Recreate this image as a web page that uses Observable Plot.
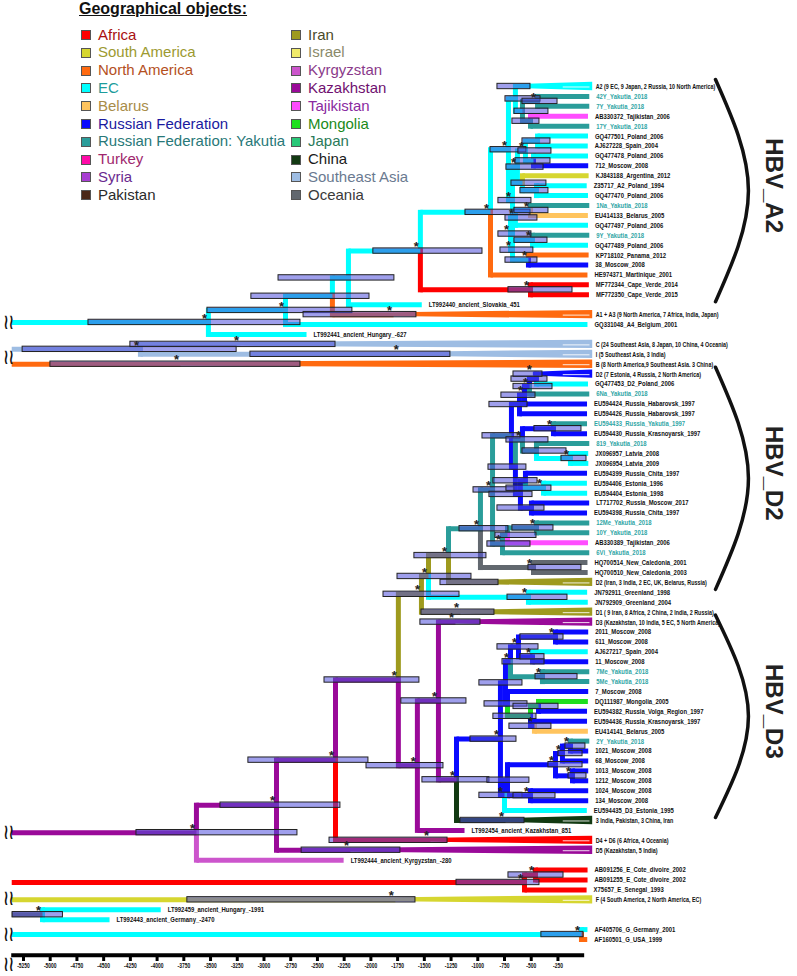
<!DOCTYPE html>
<html><head><meta charset="utf-8">
<script src="https://cdn.jsdelivr.net/npm/d3@7"></script>
<script src="https://cdn.jsdelivr.net/npm/@observablehq/plot@0.6"></script>
<style>
body{margin:0;background:#fff;}
#wrap{position:relative;width:797px;height:976px;overflow:hidden;}
#legend{position:absolute;left:0;top:0;width:420px;height:210px;font-family:"Liberation Sans",Arial,sans-serif;}
.lt{position:absolute;left:79px;top:0px;font-size:16px;font-weight:bold;text-decoration:underline;color:#111;}
.sq{position:absolute;width:8px;height:8px;border:1px solid #555;}
.lab{position:absolute;font-size:15px;line-height:18px;white-space:nowrap;}
</style></head>
<body><div id="wrap"><div id="chart"></div><div id="legend"></div></div>
<script>
// ---------- regions ----------
const regionCodes = ["AF","SA","NA","EC","BY","RU","YA","TR","SY","PK","IR","IL","KG","KZ","TJ","MN","JP","CN","SEA","OC"];
const regionNames = ["Africa","South America","North America","EC","Belarus","Russian Federation","Russian Federation: Yakutia","Turkey","Syria","Pakistan","Iran","Israel","Kyrgyzstan","Kazakhstan","Tajikistan","Mongolia","Japan","China","Southeast Asia","Oceania"];
const regionColors = ["#ff0000","#d6d630","#ff6a10","#00ffff","#ffc45e","#0a0aff","#2a9d9a","#ff0aa8","#a83ed2","#4a2818","#9e9a1e","#f0ea6a","#cc55cc","#9a0a99","#ff4dff","#1ee01e","#28c878","#123a12","#9ebde3","#62686f"];
const regionTextColors = ["#a81010","#9c9a30","#b4501e","#1c9c9c","#a88c48","#1a1aa0","#287878","#a0286e","#6a2a8e","#2a2a2a","#4a4a2a","#8a8a6a","#8a3a8a","#701070","#8a2aa0","#1a8a1a","#2a7a5a","#1a1a1a","#6a7a90","#3a3a3a"];

// ---------- axis ----------
const axisTicks = [-5250,-5000,-4750,-4500,-4250,-4000,-3750,-3500,-3250,-3000,-2750,-2500,-2250,-2000,-1750,-1500,-1250,-1000,-750,-500,-250];
const OFFSET = 1975;      // sampling year that sits at axis 0
const ROOT_X = -5360;     // left edge of the truncated root branches
const CLADE_END = 75;     // right end of collapsed clades

// ---------- internal nodes: id, parent, age, hpdLo, hpdHi, posterior*, region ----------
const nodes = [
 ["A0","root",-3520,-4642,-2659,true,"EC"],
 ["nA0b","A0",-2799,-3529,-2173,true,"EC"],
 ["nA1","nA0b",-2360,-3118,-2013,false,"EC"],
 ["nA2","nA1",-2210,-2864,-1780,false,"EC"],
 ["nA2a","nA2",-1537,-1977,-956,true,"EC"],
 ["nA2b","nA2a",-881,-1115,-507,true,"EC"],
 ["nCV","nA2a",-507,-713,-114,true,"AF"],
 ["nA2c","nA2b",-713,-881,-545,true,"EC"],
 ["nG1","nA2c",-648,-741,-413,false,"EC"],
 ["nG1a","nG1",-582,-657,-339,false,"EC"],
 ["nTY","nG1a",-441,-582,-254,true,"YA"],
 ["nTT","nG1a",-507,-676,-423,false,"YA"],
 ["nG2","nA2c",-675,-807,-498,true,"EC"],
 ["nH","nG2",-629,-732,-385,true,"EC"],
 ["nH1","nH",-554,-620,-311,true,"EC"],
 ["nH1a","nH1",-441,-582,-320,false,"EC"],
 ["nH1b","nH1",-479,-648,-320,false,"EC"],
 ["nH2","nH",-582,-685,-358,false,"EC"],
 ["nH2a","nH2",-451,-601,-339,false,"EC"],
 ["nK","nG2",-694,-807,-498,true,"EC"],
 ["nK1","nK",-648,-741,-442,true,"EC"],
 ["nK1a","nK1",-507,-657,-339,true,"EC"],
 ["nK2","nK",-675,-788,-480,true,"EC"],
 ["nK2a","nK2",-488,-657,-348,true,"EC"],
 ["nK2b","nK2",-526,-741,-442,true,"EC"],
 ["CI","root",-4156,-5258,-3256,true,"SEA"],
 ["Droot","root",-3632,-4193,-2687,true,"KZ"],
 ["N803","Droot",-2883,-3407,-2285,true,"KZ"],
 ["N759","N803",-2331,-3146,-2023,true,"KZ"],
 ["O","N759",-1743,-2434,-1546,true,"KZ"],
 ["X3","O",-1527,-1882,-1171,true,"IR"],
 ["X2","X3",-1461,-1751,-1059,true,"IR"],
 ["X1","X2",-1274,-1593,-919,true,"IR"],
 ["GL","X2",-526,-722,-161,true,"EC"],
 ["T1","X1",-975,-1171,-713,true,"YA"],
 ["NC","T1",-479,-526,-30,true,"OC"],
 ["T2","T1",-862,-1040,-657,true,"YA"],
 ["T3","T2",-685,-956,-601,false,"YA"],
 ["T4","T2",-769,-910,-507,true,"YA"],
 ["T5","T4",-722,-835,-451,false,"YA"],
 ["T6","T5",-451,-676,-292,true,"YA"],
 ["U2","T3",-610,-891,-535,false,"RU"],
 ["U2a","U2",-563,-779,-460,true,"RU"],
 ["U2b","U2a",-516,-666,-301,true,"RU"],
 ["U2c","U2b",-451,-685,-348,false,"RU"],
 ["U4","T3",-648,-900,-545,false,"RU"],
 ["U6","U4",-582,-732,-339,true,"YA"],
 ["U6a","U6",-292,-470,-30,true,"RU"],
 ["U6b","U6",-451,-582,-170,false,"YA"],
 ["LV","U6b",-133,-217,17,true,"EC"],
 ["U8","U4",-601,-891,-488,false,"RU"],
 ["U7","U8",-554,-854,-441,false,"RU"],
 ["ES","U7",-385,-732,-311,true,"EC"],
 ["LT","U8",-498,-816,-376,false,"RU"],
 ["P","O",-1565,-2041,-1321,true,"KZ"],
 ["Q","P",-1368,-1715,-1106,true,"KZ"],
 ["R","Q",-1199,-1518,-891,true,"KZ"],
 ["S","R",-788,-1068,-638,true,"RU"],
 ["Sup","S",-741,-985,-582,false,"RU"],
 ["Su1","Sup",-694,-769,-376,true,"RU"],
 ["Sv1","Su1",-619,-816,-432,true,"RU"],
 ["Sw1","Sv1",-273,-601,-198,true,"RU"],
 ["Sw2","Sv1",-488,-601,-376,true,"RU"],
 ["Sv2","Su1",-395,-460,-67,true,"YA"],
 ["Su2","Sup",-722,-937,-535,false,"RU"],
 ["Sx","Su2",-507,-854,-451,false,"MN"],
 ["Sx1","Sx",-432,-666,-245,false,"MN"],
 ["Sx2","Sx",-470,-704,-311,true,"RU"],
 ["Sdn","S",-750,-985,-582,true,"RU"],
 ["Sd1","Sdn",-722,-910,-517,false,"RU"],
 ["Sd2","Sd1",-273,-339,-20,true,"RU"],
 ["Se1","Sd2",-208,-245,-20,true,"RU"],
 ["Sf","Se1",-133,-180,7,true,"RU"],
 ["Se2","Sd2",-114,-151,17,true,"RU"],
 ["Sd3","Sd1",-507,-666,-273,true,"RU"],
 ["Eroot","root",-563,-1199,-423,true,"AF"],
 ["Epair","Eroot",-460,-713,-198,true,"AF"],
 ["HG","root",-5072,-5352,-4881,true,"OC"],
 ["Gpair","root",-30,-405,-11,true,"EC"]
];

// ---------- tips: label, parent, row, sampling year, region ----------
const tips = [
 ["42Y_Yakutia_2018","nTY",1,2018,"YA"],
 ["7Y_Yakutia_2018","nTY",2,2018,"YA"],
 ["AB330372_Tajikistan_2006","nTT",3,2006,"TJ"],
 ["17Y_Yakutia_2018","nTT",4,2018,"YA"],
 ["GQ477501_Poland_2006","nH1a",5,2006,"EC"],
 ["AJ627228_Spain_2004","nH1a",6,2004,"EC"],
 ["GQ477478_Poland_2006","nH1b",7,2006,"EC"],
 ["712_Moscow_2008","nH1b",8,2008,"RU"],
 ["KJ843188_Argentina_2012","nH2",9,2012,"SA"],
 ["Z35717_A2_Poland_1994","nH2a",10,1994,"EC"],
 ["GQ477470_Poland_2006","nH2a",11,2006,"EC"],
 ["1Na_Yakutia_2018","nK1a",12,2018,"YA"],
 ["EU414133_Belarus_2005","nK1a",13,2005,"BY"],
 ["GQ477497_Poland_2006","nK1",14,2006,"EC"],
 ["9Y_Yakutia_2018","nK2a",15,2018,"YA"],
 ["GQ477489_Poland_2006","nK2a",16,2006,"EC"],
 ["KP718102_Panama_2012","nK2b",17,2012,"NA"],
 ["38_Moscow_2008","nK2b",18,2008,"RU"],
 ["HE974371_Martinique_2001","nA2b",19,2001,"NA"],
 ["MF772344_Cape_Verde_2014","nCV",20,2014,"AF"],
 ["MF772350_Cape_Verde_2015","nCV",21,2015,"AF"],
 ["LT992440_ancient_Slovakia_451","nA2",22,451,"EC"],
 ["GQ331048_A4_Belgium_2001","nA0b",24,2001,"EC"],
 ["LT992441_ancient_Hungary_-627","A0",25,-627,"EC"],
 ["GQ477453_D2_Poland_2006","U2c",30,2006,"EC"],
 ["6Na_Yakutia_2018","U2b",31,2018,"YA"],
 ["EU594424_Russia_Habarovsk_1997","U2a",32,1997,"RU"],
 ["EU594426_Russia_Habarovsk_1997","U2",33,1997,"RU"],
 ["EU594433_Russia_Yakutia_1997","U6a",34,1997,"YA"],
 ["EU594430_Russia_Krasnoyarsk_1997","U6a",35,1997,"RU"],
 ["819_Yakutia_2018","U6b",36,2018,"YA"],
 ["JX096957_Latvia_2008","LV",37,2008,"EC"],
 ["JX096954_Latvia_2009","LV",38,2009,"EC"],
 ["EU594399_Russia_Chita_1997","U7",39,1997,"RU"],
 ["EU594406_Estonia_1996","ES",40,1996,"EC"],
 ["EU594404_Estonia_1998","ES",41,1998,"EC"],
 ["LT717702_Russia_Moscow_2017","LT",42,2017,"RU"],
 ["EU594398_Russia_Chita_1997","LT",43,1997,"RU"],
 ["12Me_Yakutia_2018","T6",44,2018,"YA"],
 ["10Y_Yakutia_2018","T6",45,2018,"YA"],
 ["AB330389_Tajikistan_2006","T5",46,2006,"TJ"],
 ["6Vi_Yakutia_2018","T4",47,2018,"YA"],
 ["HQ700514_New_Caledonia_2001","NC",48,2001,"OC"],
 ["HQ700510_New_Caledonia_2003","NC",49,2003,"OC"],
 ["JN792911_Greenland_1998","GL",51,1998,"EC"],
 ["JN792909_Greenland_2004","GL",52,2004,"EC"],
 ["2011_Moscow_2008","Sw1",55,2008,"RU"],
 ["611_Moscow_2008","Sw1",56,2008,"RU"],
 ["AJ627217_Spain_2004","Sw2",57,2004,"EC"],
 ["11_Moscow_2008","Sw2",58,2008,"RU"],
 ["7Me_Yakutia_2018","Sv2",59,2018,"YA"],
 ["5Me_Yakutia_2018","Sv2",60,2018,"YA"],
 ["7_Moscow_2008","Su2",61,2008,"RU"],
 ["DQ111987_Mongolia_2005","Sx1",62,2005,"MN"],
 ["EU594382_Russia_Volga_Region_1997","Sx1",63,1997,"RU"],
 ["EU594436_Russia_Krasnoyarsk_1997","Sx2",64,1997,"RU"],
 ["EU414141_Belarus_2005","Sx2",65,2005,"BY"],
 ["2Y_Yakutia_2018","Sf",66,2018,"YA"],
 ["1021_Moscow_2008","Sf",67,2008,"RU"],
 ["68_Moscow_2008","Se1",68,2008,"RU"],
 ["1013_Moscow_2008","Se2",69,2008,"RU"],
 ["1212_Moscow_2008","Se2",70,2008,"RU"],
 ["1024_Moscow_2008","Sd3",71,2008,"RU"],
 ["134_Moscow_2008","Sd3",72,2008,"RU"],
 ["EU594435_D3_Estonia_1995","Sdn",73,1995,"EC"],
 ["LT992454_ancient_Kazakhstan_851","P",75,851,"KZ"],
 ["LT992444_ancient_Kyrgyzstan_-280","Droot",78,-280,"KG"],
 ["AB091256_E_Cote_divoire_2002","Epair",79,2002,"AF"],
 ["AB091255_E_Cote_divoire_2002","Epair",80,2002,"AF"],
 ["X75657_E_Senegal_1993","Eroot",81,1993,"AF"],
 ["LT992459_ancient_Hungary_-1991","HG",83,-1991,"EC"],
 ["LT992443_ancient_Germany_-2470","HG",84,-2470,"EC"],
 ["AF405706_G_Germany_2001","Gpair",85,2001,"EC"],
 ["AF160501_G_USA_1999","Gpair",86,1999,"NA"]
];

// ---------- collapsed clades: label, parent, row, age, hpdLo, hpdHi, posterior*, region ----------
const clades = [
 ["A2 (9 EC, 9 Japan, 2 Russia, 10 North America)","nG1",0,-620,-816,-507,false,"EC"],
 ["A1 + A3 (9 North America, 7 Africa, India, Japan)","nA1",23,-1788,-2630,-1574,true,"NA"],
 ["C (24 Southeast Asia, 8 Japan, 10 China, 4 Oceania)","CI",26,-3220,-4250,-2331,true,"SEA"],
 ["I (5 Southeast Asia, 3 India)","CI",27,-1724,-3127,-1256,true,"SEA"],
 ["B (8 North America,9 Southeast Asia. 3 China)","root",28,-3780,-4998,-2659,true,"NA"],
 ["D2 (7 Estonia, 4 Russia, 2 North America)","U2c",29,-480,-666,-395,true,"RU"],
 ["D2 (Iran, 3 India, 2 EC, UK, Belarus, Russia)","X1",50,-1068,-1349,-806,false,"IR"],
 ["D1 ( 9 Iran, 8 Africa, 2 China, 2 India, 2 Russia)","X3",53,-1162,-1527,-844,true,"IR"],
 ["D3 (Kazakhstan, 10 India, 5 EC, 5 North America)","Q",54,-1209,-1537,-975,true,"KZ"],
 ["3 India, Pakistan, 3 China, Iran","R",74,-741,-1162,-563,true,"CN"],
 ["D4 + D6 (6 Africa, 4 Oceania)","N759",76,-1443,-2387,-1283,true,"AF"],
 ["D5 (Kazakhstan, 5 India)","N803",77,-2191,-2648,-1724,true,"KZ"],
 ["F (4 South America, 2 North America, EC)","root",82,-1771,-3717,-1583,true,"SA"]
];

// ---------- genotype brackets: label, first row, last row ----------
const brackets = [["HBV_A2",0,21],["HBV_D2",29,50],["HBV_D3",54,73]];

// ================= build tree =================
const col = c => regionColors[regionCodes.indexOf(c)];
const byId = new Map();
byId.set("root",{id:"root",x:ROOT_X,children:[],root:true});
for (const [id,parent,x,lo,hi,star,region] of nodes) byId.set(id,{id,parent,x,lo,hi,star,region,children:[]});
for (const n of nodes) byId.get(n[1]).children.push(byId.get(n[0]));
const tipObjs = tips.map(([label,parent,row,year,region])=>({label,parent,y:row,x:year-OFFSET,region}));
const cladeObjs = clades.map(([label,parent,row,x,lo,hi,star,region])=>({label,parent,y:row,x,lo,hi,star,region,clade:true}));
for (const t of tipObjs) byId.get(t.parent).children.push(t);
for (const c of cladeObjs) byId.get(c.parent).children.push(c);
function setY(n){
  if(!n.children) return n.y;
  const ys = n.children.map(setY);
  n.y = (Math.min(...ys)+Math.max(...ys))/2;
  return n.y;
}
setY(byId.get("root"));
const internal = nodes.map(n=>byId.get(n[0]));
const all = [...internal,...tipObjs,...cladeObjs];
const hSegs=[], vSegs=[];
for (const n of all){
  const p = byId.get(n.parent);
  hSegs.push({x1:p.x,x2:n.x,y:n.y,c:col(n.region)});
  if(!p.root) vSegs.push({x:p.x,y1:p.y,y2:n.y,c:col(n.region)});
}
const tri=[];
for (const c of cladeObjs){
  tri.push({id:c.label,x:c.x,y1:c.y-0.2,y2:c.y+0.2,c:col(c.region)});
  tri.push({id:c.label,x:CLADE_END,y1:c.y-0.42,y2:c.y+0.42,c:col(c.region)});
}
const bars=[...internal,...cladeObjs];
const stars=bars.filter(d=>d.star);
// break marks on the truncated root branches (close rows share one mark)
const AXIS_ROW = 87.6;
const rootRows = byId.get("root").children.map(d=>d.y).sort((a,b)=>a-b);
const breakRows=[];
for (const r of rootRows){
  const last = breakRows[breakRows.length-1];
  if (last && r - last.hi < 2) { last.hi = r; } else breakRows.push({lo:r,hi:r});
}
const breakMarks = breakRows.map(b=>(b.lo+b.hi)/2);
breakMarks.push(AXIS_ROW+0.9);
const arcPts=[];
for (const [lab,a,b] of brackets){
  const t=a-0.7, e=b+0.7, m=(t+e)/2;
  arcPts.push({id:lab,x:1224,y:t},{id:lab,x:1532,y:m},{id:lab,x:1224,y:e});
}
const bracketLabels = brackets.map(([lab,a,b])=>({lab,y:(a+b)/2-0.5}));

const FONT = "'Liberation Sans',Arial,sans-serif";
const chart = Plot.plot({
  width:797,height:976,marginLeft:0,marginRight:0,marginTop:0,marginBottom:21,
  x:{domain:[-5465,1991],axis:null},
  y:{domain:[0,86],range:[86,939],axis:null},
  color:{type:"identity"},
  style:{fontFamily:FONT,background:"#fff",overflow:"visible"},
  marks:[
    Plot.link(vSegs,{x1:"x",x2:"x",y1:"y1",y2:"y2",stroke:"c",strokeWidth:5,strokeLinecap:"square"}),
    Plot.link(hSegs,{x1:"x1",x2:"x2",y1:"y",y2:"y",stroke:"c",strokeWidth:5}),
    Plot.areaY(tri,{x:"x",y1:"y1",y2:"y2",z:"id",fill:"c"}),
    Plot.link(cladeObjs,{x1:CLADE_END-280,x2:CLADE_END-30,y1:d=>d.y+0.05,y2:d=>d.y+0.05,stroke:"#fff",strokeWidth:1,strokeOpacity:0.85}),
    Plot.rect(bars,{x1:"lo",x2:"hi",y1:d=>d.y-0.27,y2:d=>d.y+0.27,fill:"#5050dc",fillOpacity:0.55,stroke:"#222",strokeWidth:1}),
    Plot.text(stars,{x:"x",y:"y",text:()=>"*",fontSize:13,fontWeight:"bold",dx:-4,dy:-4,fill:"#222"}),
    Plot.text(tipObjs,{x:"x",y:"y",text:"label",textAnchor:"start",dx:7,fontSize:7.5,fontWeight:"bold",fill:d=>d.region==="YA"?"#2fa5a5":"#111"}),
    Plot.text(cladeObjs,{x:CLADE_END,y:"y",text:"label",textAnchor:"start",dx:3,fontSize:7.5,fontWeight:"bold",fill:"#111"}),
    Plot.line(arcPts,{x:"x",y:"y",z:"id",curve:"natural",stroke:"#111",strokeWidth:3.5}),
    Plot.text(bracketLabels,{x:1767,y:"y",text:"lab",rotate:90,fontSize:24,fontWeight:"bold",fill:"#222"}),
    Plot.text(breakMarks,{x:ROOT_X,y:d=>d,text:()=>"≀≀",dx:-3,fontSize:21,fontWeight:"bold",fill:"#111",fontFamily:"'DejaVu Sans',sans-serif"}),
    Plot.ruleY([AXIS_ROW],{x1:ROOT_X,x2:0,stroke:"#000",strokeWidth:4}),
    Plot.axisX({ticks:axisTicks,tickFormat:d=>String(d),tickSize:6,tickPadding:2,strokeWidth:3,fontSize:6.5,fontWeight:"bold",label:null,fill:"#111"})
  ]
});
document.getElementById("chart").appendChild(chart);

// condense labels horizontally (the reference uses a narrow face)
const tipSet = new Set(tipObjs.map(d=>d.label));
const cladeSet = new Set(cladeObjs.map(d=>d.label));
const tickSet = new Set(axisTicks.map(String));
function squeeze(t,k){
  const tr = t.getAttribute("transform");
  if (tr) t.setAttribute("transform", tr+` scale(${k},1)`);
  else {
    const x=+(t.getAttribute("x")||0), y=+(t.getAttribute("y")||0);
    t.removeAttribute("x"); t.removeAttribute("y");
    t.setAttribute("transform",`translate(${x},${y}) scale(${k},1)`);
  }
}
chart.querySelectorAll("text").forEach(t=>{
  const s=t.textContent;
  if (tipSet.has(s)) squeeze(t,0.79);
  else if (cladeSet.has(s)) squeeze(t,0.72);
  else if (tickSet.has(s)) squeeze(t,0.76);
  else if (s==="≀≀") squeeze(t,0.65);
});

// ---------- legend ----------
const lg = document.getElementById("legend");
const tt = document.createElement("div"); tt.className="lt"; tt.textContent="Geographical objects:"; lg.appendChild(tt);
regionNames.forEach((name,i)=>{
  const c = i<10?0:1, r = i%10;
  const cy = 35 + r*17.8;
  const sx = c===0?81:291, tx = c===0?98:308;
  const sq=document.createElement("div"); sq.className="sq";
  sq.style.left=sx+"px"; sq.style.top=(cy-5)+"px"; sq.style.background=regionColors[i]; lg.appendChild(sq);
  const lb=document.createElement("div"); lb.className="lab";
  lb.style.left=tx+"px"; lb.style.top=(cy-9.5)+"px"; lb.style.color=regionTextColors[i]; lb.textContent=name; lg.appendChild(lb);
});
</script></body></html>
